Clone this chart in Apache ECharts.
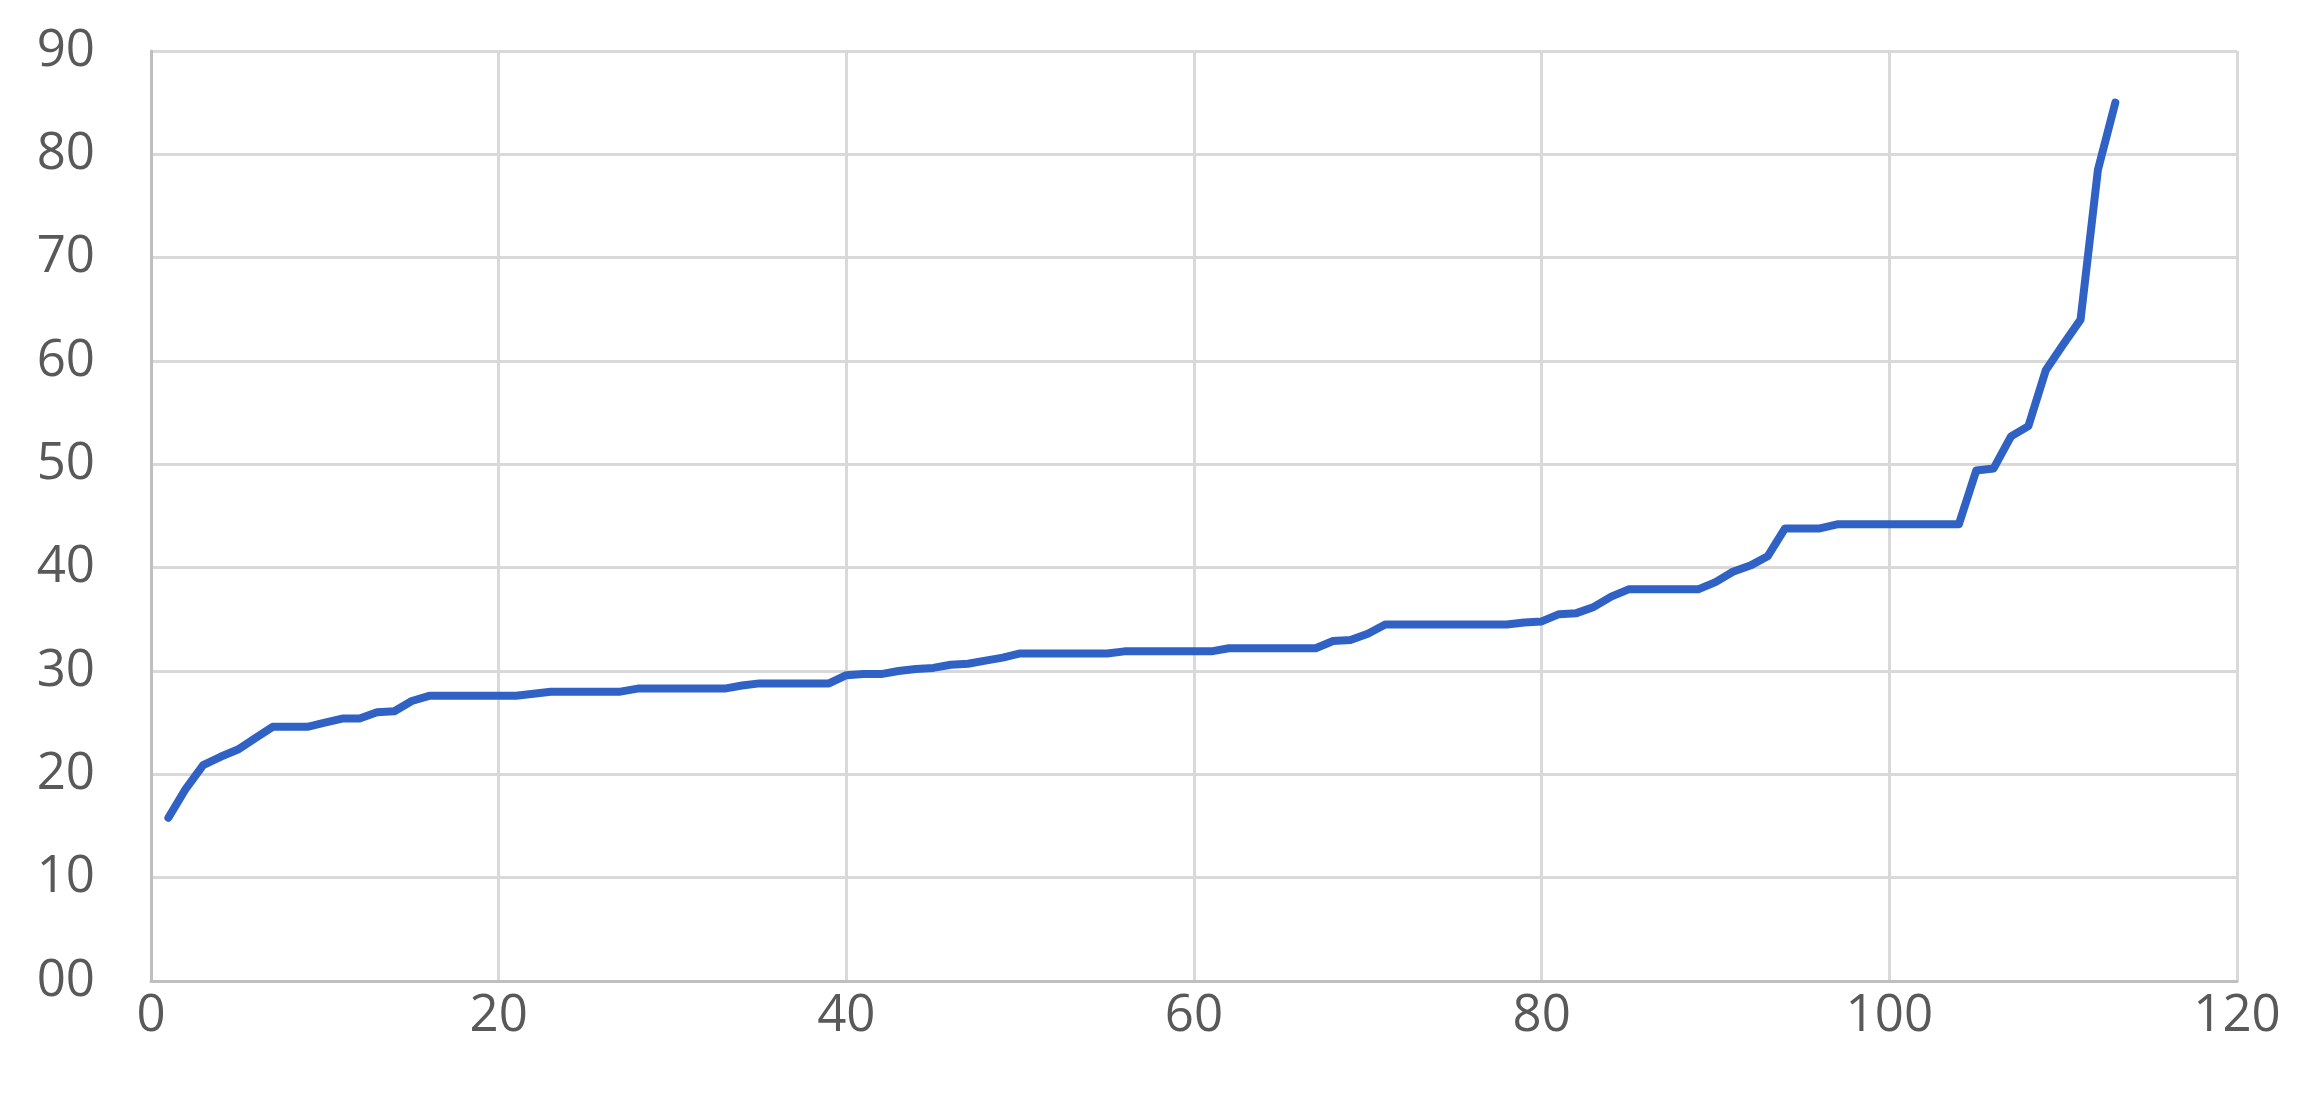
<!DOCTYPE html>
<html>
<head>
<meta charset="utf-8">
<script src="https://cdn.jsdelivr.net/npm/echarts@6/dist/echarts.min.js"></script>
<style>
html,body{margin:0;padding:0;background:#fff;}
#c{width:2300px;height:1106px;}
</style>
</head>
<body>
<div id="c"></div>
<script>
// Sorted values, one per observation (observation number = position 1..113)
const values = [
  15.8, 18.6, 20.9, 21.7, 22.4, 23.5, 24.6, 24.6, 24.6, 25.0,
  25.4, 25.4, 26.0, 26.1, 27.1, 27.6, 27.6, 27.6, 27.6, 27.6,
  27.6, 27.8, 28.0, 28.0, 28.0, 28.0, 28.0, 28.3, 28.3, 28.3,
  28.3, 28.3, 28.3, 28.6, 28.8, 28.8, 28.8, 28.8, 28.8, 29.6,
  29.7, 29.7, 30.0, 30.2, 30.3, 30.6, 30.7, 31.0, 31.3, 31.7,
  31.7, 31.7, 31.7, 31.7, 31.7, 31.9, 31.9, 31.9, 31.9, 31.9,
  31.9, 32.2, 32.2, 32.2, 32.2, 32.2, 32.2, 32.9, 33.0, 33.6,
  34.5, 34.5, 34.5, 34.5, 34.5, 34.5, 34.5, 34.5, 34.7, 34.8,
  35.5, 35.6, 36.2, 37.2, 37.9, 37.9, 37.9, 37.9, 37.9, 38.6,
  39.6, 40.2, 41.1, 43.8, 43.8, 43.8, 44.2, 44.2, 44.2, 44.2,
  44.2, 44.2, 44.2, 44.2, 49.4, 49.6, 52.7, 53.7, 59.1, 61.6,
  64.0, 78.5, 85.0
];
const xTicks = [0, 20, 40, 60, 80, 100, 120];
const yTickLabels = ['00','10','20','30','40','50','60','70','80','90'];

const seriesData = values.map((v, i) => [i + 1, v]);

const chart = echarts.init(document.getElementById('c'), null, {renderer: 'canvas'});
const labelFont = {color: '#595959', fontSize: 51, fontFamily: 'Open Sans, Noto Sans, sans-serif'};
chart.setOption({
  animation: false,
  backgroundColor: '#ffffff',
  grid: {left: 151, right: 63, top: 51, bottom: 125, containLabel: false},
  xAxis: {
    type: 'value',
    min: xTicks[0], max: xTicks[xTicks.length - 1], interval: 20,
    axisLine: {show: true, lineStyle: {color: '#BFBFBF', width: 3}},
    axisTick: {show: false},
    splitLine: {show: true, lineStyle: {color: '#D9D9D9', width: 3}},
    axisLabel: Object.assign({margin: 10}, labelFont)
  },
  yAxis: {
    type: 'value',
    min: 0, max: 90, interval: 10,
    axisLine: {show: true, lineStyle: {color: '#BFBFBF', width: 3}},
    axisTick: {show: false},
    splitLine: {show: true, lineStyle: {color: '#D9D9D9', width: 3}},
    axisLabel: Object.assign({
      margin: 56,
      formatter: v => yTickLabels[Math.round(v / 10)]
    }, labelFont)
  },
  series: [{
    type: 'line',
    data: seriesData,
    showSymbol: false,
    symbol: 'none',
    lineStyle: {color: '#2F62C4', width: 8, join: 'round', cap: 'round'},
    smooth: false
  }]
});
</script>
</body>
</html>
